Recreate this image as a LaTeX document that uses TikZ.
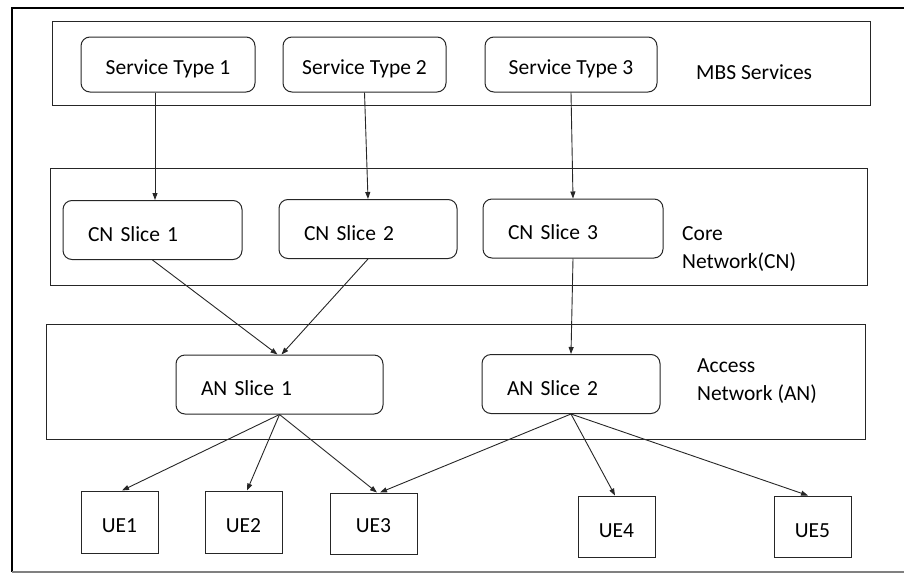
\documentclass[tikz,border=0pt]{standalone}
\usepackage{fontspec}
\setmainfont{Carlito}
\usetikzlibrary{arrows.meta,calc}

\begin{document}
\begin{tikzpicture}[x=1pt,y=-1pt,
    font=\fontsize{21.5}{28}\selectfont,
    layer/.style={draw=black!85,line width=1pt,inner sep=0pt},
    svc/.style={draw=black!85,line width=1pt,rounded corners=9pt,minimum height=55pt,text height=19pt,text depth=0pt},
    slice/.style={svc,minimum height=59pt,text height=22pt,align=left,inner xsep=25pt},
    ue/.style={draw=black!85,line width=1pt,minimum width=77pt,minimum height=62pt,text height=21pt,text depth=0pt},
    lbl/.style={anchor=west,align=left,inner sep=0pt},
    arr/.style={-{Triangle[length=7pt,width=5pt]},line width=0.9pt,black!85}]
    \useasboundingbox (0,0) rectangle (904,573);
    % frame
    \draw[line width=2.7pt] (904,8) -- (12,8) -- (12,572);
    \draw[black!50,line width=1.3pt] (12,572) -- (904,572);
    % layers
    \node[layer,minimum width=818pt,minimum height=84pt] (mbs) at (461,63) {};
    \node[layer,minimum width=817pt,minimum height=117pt] (cn) at (458.5,226.5) {};
    \node[layer,minimum width=819pt,minimum height=115pt] (an) at (455.5,381.5) {};
    \node[lbl] (mbslbl) at (696,72) {MBS Services};
    \node[lbl] (cnlbl) at (682,249) {Core\\Network(CN)};
    \node[lbl] (anlbl) at (697,381.5) {Access\\Network (AN)};
    % services
    \node[svc,minimum width=174pt] (st1) at (168,64.5) {Service Type 1};
    \node[svc,minimum width=163pt] (st2) at (364.5,64.5) {Service Type 2};
    \node[svc,minimum width=172pt] (st3) at (571,64.5) {Service Type 3};
    % slices
    \node[slice,text width=129pt] (cn1) at (152.5,230) {CN Slice 1};
    \node[slice,text width=128pt] (cn2) at (368,229) {CN Slice 2};
    \node[slice,text width=130pt] (cn3) at (573,228.5) {CN Slice 3};
    \node[slice,text width=157pt,inner xsep=25pt] (an1) at (279.5,384.5) {AN Slice 1};
    \node[slice,text width=128pt] (an2) at (571,384) {AN Slice 2};
    % user equipment
    \node[ue] (ue1) at (119.5,522) {UE1};
    \node[ue] (ue2) at (243.5,522) {UE2};
    \node[ue,minimum width=87pt,minimum height=61pt,text height=17pt] (ue3) at (373.5,523.5) {UE3};
    \node[ue,minimum height=61pt] (ue4) at (616.5,526.5) {UE4};
    \node[ue,minimum height=61pt] (ue5) at (812.5,526.5) {UE5};
    % arrows
    \draw[arr] ($(cn1.north |- st1.south)+(2.5,0)$) -- ($(cn1.north)+(2.5,0)$);
    \draw[arr] (st2.south) -- (cn2.north);
    \draw[arr] (st3.south) -- (cn3.north);
    \draw[arr] (cn1.south) -- ($(an1.north)+(-2,0)$);
    \draw[arr] (cn2.south) -- ($(an1.north)+(2,0)$);
    \draw[arr] (cn3.south) -- (an2.north);
    \draw[arr] (an1.south) -- ($(ue1.north)+(2.5,0)$);
    \draw[arr] (an1.south) -- ($(ue2.north)+(3.5,0)$);
    \draw[arr] (an1.south) -- ($(ue3.north)+(3.5,0)$);
    \draw[arr] (an2.south) -- ($(ue3.north)+(6.5,0)$);
    \draw[arr] (an2.south) -- ($(ue4.north)+(-1.5,0)$);
    \draw[arr] (an2.south) -- ($(ue5.north)+(-4.5,0)$);
\end{tikzpicture}
\end{document}
